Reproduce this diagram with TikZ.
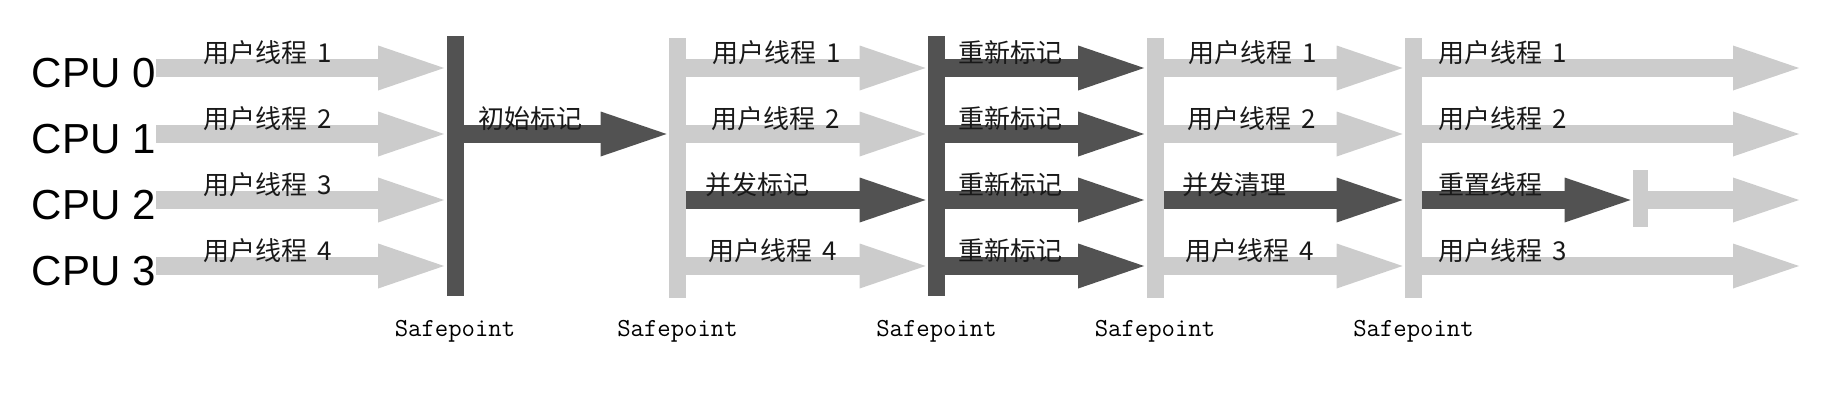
\documentclass[tikz,border=0pt]{standalone}
\usepackage{fontspec}
\setmainfont{Liberation Sans}
\newfontfamily\cjk{Noto Sans CJK SC}
\usepackage{tikz}
\usetikzlibrary{arrows.meta,positioning}

\definecolor{litegray}{RGB}{204,204,204}
\definecolor{gcgray}{RGB}{82,82,82}

\tikzset{
    userflow/.style={draw=litegray, line width=9pt, shorten >=1pt,
        -{Triangle[width=22.5pt,length=33pt,line width=0pt]}},
    gcflow/.style={userflow, draw=gcgray},
    userbar/.style={fill=litegray, inner sep=0pt, minimum width=8.5pt, minimum height=130pt},
    gcbar/.style={userbar, fill=gcgray},
    tag/.style={font=\cjk\fontsize{13}{13}\selectfont, anchor=west, inner sep=0pt, text=black!90},
    cpulbl/.style={font=\fontsize{21}{21}\selectfont, anchor=east, inner sep=0pt, yshift=-2.5pt},
    safelbl/.style={font=\ttfamily\fontsize{13}{13}\selectfont, inner sep=0pt, text=black}
}
\newcommand{\thr}[1]{用户线程\hspace{5pt}#1}

\begin{document}
\begin{tikzpicture}[x=0.5pt, y=-0.5pt]
    \useasboundingbox (0,0) rectangle (1841,407);

    % rows, end of the time line, label line
    \coordinate (r0) at (0,68);
    \coordinate (r1) at (0,134);
    \coordinate (r2) at (0,200);
    \coordinate (r3) at (0,266);
    \coordinate (e) at (1801,0);
    \coordinate (sl) at (0,331);

    % CPUs
    \node[cpulbl] (cpu0) at (156,68) {CPU 0};
    \node[cpulbl] (cpu1) at (156,134) {CPU 1};
    \node[cpulbl] (cpu2) at (156,200) {CPU 2};
    \node[cpulbl] (cpu3) at (156,266) {CPU 3};

    % Safepoints
    \node[gcbar] (sp1) at (455,166) {};
    \node[userbar] (sp2) at (677.5,167.5) {};
    \node[gcbar] (sp3) at (936.5,166) {};
    \node[userbar] (sp4) at (1155,167.5) {};
    \node[userbar] (sp5) at (1413.5,167.5) {};
    \node[userbar, minimum width=7.5pt, minimum height=28.5pt] (cut) at (1640.5,198.5) {};

    \foreach \s in {1,...,5}
        \node[safelbl] (sl\s) at (sp\s |- sl) {Safepoint};

    % user threads
    \foreach \r in {0,...,3}
        \draw[userflow] (cpu\r.east |- r\r) -- (sp1.west |- r\r);

    % initial mark
    \draw[gcflow] (sp1.east |- r1) -- (sp2.west |- r1);

    % concurrent mark
    \foreach \r in {0,1,3}
        \draw[userflow] (sp2.east |- r\r) -- (sp3.west |- r\r);
    \draw[gcflow] (sp2.east |- r2) -- (sp3.west |- r2);

    % remark
    \foreach \r in {0,...,3}
        \draw[gcflow] (sp3.east |- r\r) -- (sp4.west |- r\r);

    % concurrent sweep
    \foreach \r in {0,1,3}
        \draw[userflow] (sp4.east |- r\r) -- (sp5.west |- r\r);
    \draw[gcflow] (sp4.east |- r2) -- (sp5.west |- r2);

    % reset
    \foreach \r in {0,1,3}
        \draw[userflow] (sp5.east |- r\r) -- (e |- r\r);
    \draw[gcflow] (sp5.east |- r2) -- (cut.west |- r2);
    \draw[userflow] (cut.east |- r2) -- (e |- r2);

    % labels
    \node[tag] (la0) at (203,53) {\thr{1}};
    \node[tag] (la1) at (203,119) {\thr{2}};
    \node[tag] (la2) at (203,185) {\thr{3}};
    \node[tag] (la3) at (203,251) {\thr{4}};

    \node[tag] (lb) at (478,119) {初始标记};

    \node[tag] (lc0) at (712,53) {\thr{1}};
    \node[tag] (lc1) at (711,119) {\thr{2}};
    \node[tag] (lc2) at (705,185) {并发标记};
    \node[tag] (lc3) at (708,251) {\thr{4}};

    \node[tag] (ld0) at (958,53) {重新标记};
    \node[tag] (ld1) at (958,119) {重新标记};
    \node[tag] (ld2) at (958,185) {重新标记};
    \node[tag] (ld3) at (958,251) {重新标记};

    \node[tag] (le0) at (1188,53) {\thr{1}};
    \node[tag] (le1) at (1187,119) {\thr{2}};
    \node[tag] (le2) at (1182,185) {并发清理};
    \node[tag] (le3) at (1185,251) {\thr{4}};

    \node[tag] (lf0) at (1438,53) {\thr{1}};
    \node[tag] (lf1) at (1438,119) {\thr{2}};
    \node[tag] (lf2) at (1438,185) {重置线程};
    \node[tag] (lf3) at (1438,251) {\thr{3}};
\end{tikzpicture}
\end{document}
